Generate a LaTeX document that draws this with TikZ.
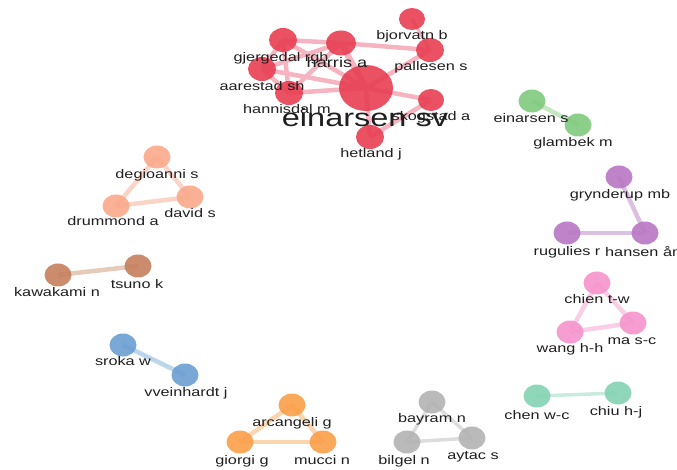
\documentclass[tikz,border=0pt]{standalone}
\usepackage{fontspec}
\newfontfamily\lblfont[FakeStretch=1.3]{Liberation Sans}
\usetikzlibrary{shapes.geometric}
\pgfdeclarelayer{bg}
\pgfsetlayers{bg,main}
\definecolor{rN}{RGB}{232,62,82}\definecolor{rE}{RGB}{245,180,192}
\definecolor{sN}{RGB}{249,168,138}\definecolor{sE}{RGB}{250,212,198}
\definecolor{gN}{RGB}{128,202,125}\definecolor{gE}{RGB}{196,232,194}
\definecolor{pN}{RGB}{183,118,195}\definecolor{pE}{RGB}{220,192,226}
\definecolor{bN}{RGB}{196,128,92}\definecolor{bE}{RGB}{230,203,186}
\definecolor{uN}{RGB}{106,158,210}\definecolor{uE}{RGB}{189,213,236}
\definecolor{kN}{RGB}{245,148,205}\definecolor{kE}{RGB}{251,206,232}
\definecolor{tN}{RGB}{132,210,180}\definecolor{tE}{RGB}{200,235,221}
\definecolor{oN}{RGB}{250,158,72}\definecolor{oE}{RGB}{251,212,176}
\definecolor{yN}{RGB}{178,178,178}\definecolor{yE}{RGB}{221,221,221}
\tikzset{
  nd/.style={ellipse, minimum width=27pt, minimum height=23pt, inner sep=0pt, fill=#1, fill opacity=0.9, draw=none},
  ed/.style={draw=#1, line width=4.5pt},
  lbl/.style={font=\lblfont\fontsize{12.5}{14}\selectfont, text=black!88, inner sep=0pt},
}
\begin{document}
\begin{tikzpicture}[x=1pt,y=-1pt]
\useasboundingbox (0,0) rectangle (677,470);
% red cluster nodes
\node[nd=rN, minimum width=54pt, minimum height=46pt] (einarsen) at (366,88) {};
\node[nd=rN, minimum width=30pt, minimum height=25pt] (harris) at (341,43) {};
\node[nd=rN, minimum width=28pt, minimum height=24pt] (gjergedal) at (283,40) {};
\node[nd=rN, minimum width=28pt, minimum height=24pt] (aarestad) at (262,69) {};
\node[nd=rN, minimum width=28pt, minimum height=24pt] (hannisdal) at (289,93) {};
\node[nd=rN, minimum width=26pt, minimum height=22pt] (bjorvatn) at (412,19) {};
\node[nd=rN, minimum width=28pt, minimum height=24pt] (pallesen) at (430,50) {};
\node[nd=rN, minimum width=26pt, minimum height=22pt] (skogstad) at (431,100) {};
\node[nd=rN, minimum width=28pt, minimum height=24pt] (hetland) at (370,137) {};
% other nodes
\node[nd=sN] (degioanni) at (157,157) {};
\node[nd=sN] (david) at (190,197) {};
\node[nd=sN] (drummond) at (116,206) {};
\node[nd=gN] (einarsens) at (532,101) {};
\node[nd=gN] (glambek) at (578,125) {};
\node[nd=pN] (grynderup) at (619,177) {};
\node[nd=pN] (rugulies) at (567,233) {};
\node[nd=pN] (hansen) at (645,233) {};
\node[nd=bN] (kawakami) at (58,275) {};
\node[nd=bN] (tsuno) at (138,266) {};
\node[nd=uN] (sroka) at (123,345) {};
\node[nd=uN] (vveinhardt) at (185,375) {};
\node[nd=kN] (chien) at (597,283) {};
\node[nd=kN] (wang) at (570,332) {};
\node[nd=kN] (ma) at (633,323) {};
\node[nd=tN] (chen) at (537,396) {};
\node[nd=tN] (chiu) at (618,393) {};
\node[nd=oN] (arcangeli) at (292,405) {};
\node[nd=oN] (giorgi) at (240,442) {};
\node[nd=oN] (mucci) at (323,442) {};
\node[nd=yN] (bayram) at (432,402) {};
\node[nd=yN] (bilgel) at (407,442) {};
\node[nd=yN] (aytac) at (472,438) {};
% edges (behind nodes)
\begin{pgfonlayer}{bg}
\path[ed=rE] (gjergedal.center) -- (harris.center);
\path[ed=rE] (gjergedal.center) -- (aarestad.center);
\path[ed=rE] (gjergedal.center) -- (hannisdal.center);
\path[ed=rE] (gjergedal.center) -- (einarsen.center);
\path[ed=rE] (aarestad.center) -- (harris.center);
\path[ed=rE] (aarestad.center) -- (hannisdal.center);
\path[ed=rE] (aarestad.center) -- (einarsen.center);
\path[ed=rE] (hannisdal.center) -- (harris.center);
\path[ed=rE] (hannisdal.center) -- (einarsen.center);
\path[ed=rE, line width=6pt] (harris.center) -- (einarsen.center);
\path[ed=rE] (harris.center) -- (pallesen.center);
\path[ed=rE, line width=3pt] (bjorvatn.center) -- (pallesen.center);
\path[ed=rE] (pallesen.center) -- (einarsen.center);
\path[ed=rE] (skogstad.center) -- (einarsen.center);
\path[ed=rE] (skogstad.center) -- (hetland.center);
\path[ed=rE] (hetland.center) -- (einarsen.center);
\path[ed=sE] (degioanni.center) -- (david.center);
\path[ed=sE] (degioanni.center) -- (drummond.center);
\path[ed=sE] (drummond.center) -- (david.center);
\path[ed=gE] (einarsens.center) -- (glambek.center);
\path[ed=pE] (grynderup.center) -- (hansen.center);
\path[ed=pE] (rugulies.center) -- (hansen.center);
\path[ed=bE] (kawakami.center) -- (tsuno.center);
\path[ed=uE] (sroka.center) -- (vveinhardt.center);
\path[ed=kE] (chien.center) -- (wang.center);
\path[ed=kE] (chien.center) -- (ma.center);
\path[ed=kE] (wang.center) -- (ma.center);
\path[ed=tE, line width=3.5pt] (chen.center) -- (chiu.center);
\path[ed=oE] (arcangeli.center) -- (giorgi.center);
\path[ed=oE] (arcangeli.center) -- (mucci.center);
\path[ed=oE] (giorgi.center) -- (mucci.center);
\path[ed=yE, line width=3.5pt] (bayram.center) -- (bilgel.center);
\path[ed=yE, line width=3.5pt] (bayram.center) -- (aytac.center);
\path[ed=yE, line width=3.5pt] (bilgel.center) -- (aytac.center);
\end{pgfonlayer}
% labels
\node[lbl] (l-gjergedal) at (281,58) {gjergedal rgh};
\node[lbl] (l-aarestad) at (262,86) {aarestad sh};
\node[lbl] (l-hannisdal) at (287,109) {hannisdal m};
\node[lbl] (l-bjorvatn) at (412,36) {bjorvatn b};
\node[lbl] (l-pallesen) at (431,67) {pallesen s};
\node[lbl] (l-skogstad) at (431,117) {skogstad a};
\node[lbl] (l-hetland) at (371,154) {hetland j};
\node[lbl, font=\lblfont\fontsize{14}{16}\selectfont] (l-harris) at (337,62) {harris a};
\node[lbl, font=\lblfont\fontsize{25}{28}\selectfont] (l-einarsen) at (365,118) {einarsen sv};
\node[lbl] (l-degioanni) at (157,175) {degioanni s};
\node[lbl] (l-david) at (190,213) {david s};
\node[lbl] (l-drummond) at (113,221) {drummond a};
\node[lbl] (l-einarsens) at (531,118) {einarsen s};
\node[lbl] (l-glambek) at (573,143) {glambek m};
\node[lbl] (l-grynderup) at (620,195) {grynderup mb};
\node[lbl] (l-rugulies) at (567,252) {rugulies r};
\node[lbl, anchor=west] (l-hansen) at (605,252) {hansen åm};
\node[lbl] (l-kawakami) at (57,292) {kawakami n};
\node[lbl] (l-tsuno) at (137,284) {tsuno k};
\node[lbl] (l-sroka) at (123,361) {sroka w};
\node[lbl] (l-vveinhardt) at (186,393) {vveinhardt j};
\node[lbl] (l-chien) at (597,299) {chien t-w};
\node[lbl] (l-wang) at (570,349) {wang h-h};
\node[lbl] (l-ma) at (632,341) {ma s-c};
\node[lbl] (l-chen) at (537,415) {chen w-c};
\node[lbl] (l-chiu) at (616,412) {chiu h-j};
\node[lbl] (l-arcangeli) at (292,423) {arcangeli g};
\node[lbl] (l-giorgi) at (242,461) {giorgi g};
\node[lbl] (l-mucci) at (322,460) {mucci n};
\node[lbl] (l-bayram) at (432,419) {bayram n};
\node[lbl] (l-bilgel) at (404,461) {bilgel n};
\node[lbl] (l-aytac) at (473,457) {aytac s};
\end{tikzpicture}
\end{document}
